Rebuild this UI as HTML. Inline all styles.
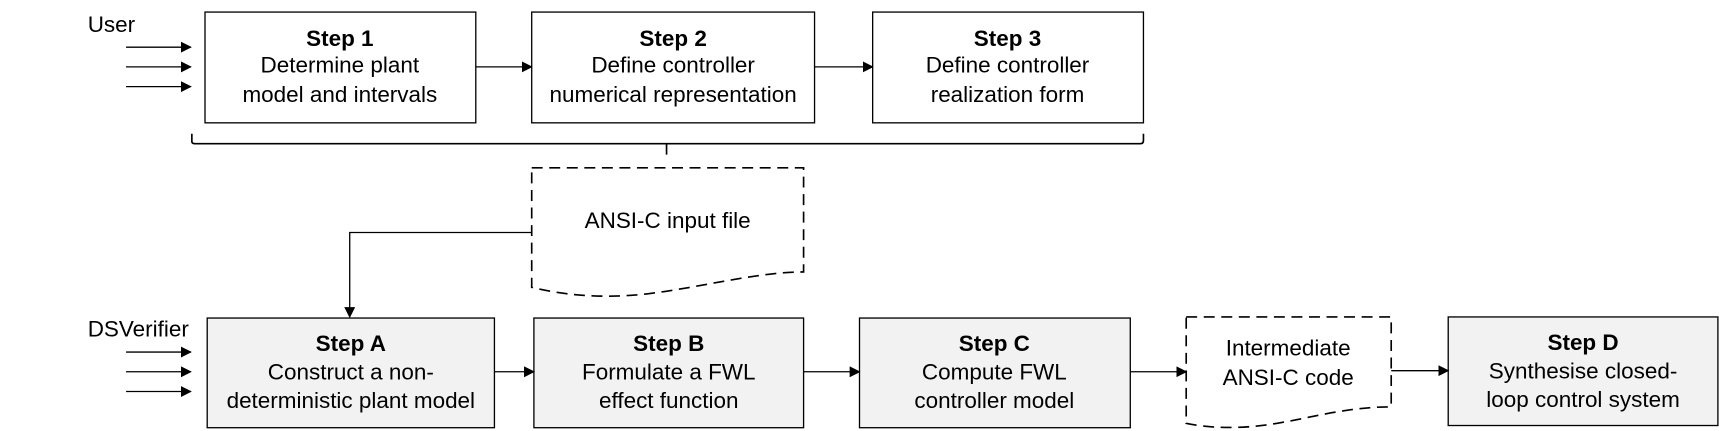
<!DOCTYPE html>
<html><head><style>html,body{margin:0;padding:0;background:#fff}svg{display:block}</style></head>
<body>
<svg width="1719" height="431" viewBox="0 0 1568 393" preserveAspectRatio="none" xmlns="http://www.w3.org/2000/svg" font-family="Liberation Sans, Arial, sans-serif" font-size="20.5">
<defs><marker id="a" markerWidth="10" markerHeight="10" refX="9" refY="5" orient="auto" markerUnits="userSpaceOnUse"><path d="M0,0 L10,5 L0,10 z" fill="#000"/></marker></defs>
<g stroke="#000" stroke-width="1.2" fill="none">
<line x1="115" y1="43" x2="174" y2="43" marker-end="url(#a)"/>
<line x1="115" y1="61" x2="174" y2="61" marker-end="url(#a)"/>
<line x1="115" y1="79" x2="174" y2="79" marker-end="url(#a)"/>
<line x1="115" y1="321" x2="174" y2="321" marker-end="url(#a)"/>
<line x1="115" y1="339" x2="174" y2="339" marker-end="url(#a)"/>
<line x1="115" y1="357" x2="174" y2="357" marker-end="url(#a)"/>
<rect x="187" y="11" width="247" height="101" fill="#fff"/>
<rect x="485" y="11" width="258" height="101" fill="#fff"/>
<rect x="796" y="11" width="247" height="101" fill="#fff"/>
<line x1="434" y1="61" x2="485" y2="61" marker-end="url(#a)"/>
<line x1="743" y1="61" x2="796" y2="61" marker-end="url(#a)"/>
<path d="M175,122 V129 Q175,131 178,131 H1040 Q1043,131 1043,128 V122" stroke-width="1.5"/>
<line x1="608" y1="131" x2="608" y2="141" stroke-width="1.5"/>
<path d="M485,153 H733 V248 C690,248 640,262 590,268 C545,273 510,268 485,262 Z" stroke-dasharray="10,6" stroke-width="1.5"/>
<polyline points="485,212 319,212 319,289" marker-end="url(#a)"/>
<rect x="189" y="290" width="262" height="100" fill="#f2f2f2"/>
<rect x="487" y="290" width="246" height="100" fill="#f2f2f2"/>
<rect x="784" y="290" width="247" height="100" fill="#f2f2f2"/>
<rect x="1321" y="289" width="246" height="99" fill="#f2f2f2"/>
<path d="M1082,289 H1269 V371 C1230,371 1200,380 1165,386 C1130,392 1100,390 1082,386 Z" stroke-dasharray="10,6" stroke-width="1.5"/>
<line x1="451" y1="339" x2="487" y2="339" marker-end="url(#a)"/>
<line x1="733" y1="339" x2="784" y2="339" marker-end="url(#a)"/>
<line x1="1031" y1="339" x2="1082" y2="339" marker-end="url(#a)"/>
<line x1="1269" y1="338" x2="1321" y2="338" marker-end="url(#a)"/>
</g>
<g fill="#000">
<text x="80" y="29">User</text>
<text x="80" y="307">DSVerifier</text>
<g text-anchor="middle">
<text x="310" y="42" font-weight="bold">Step 1</text><text x="310" y="66">Determine plant</text><text x="310" y="93">model and intervals</text>
<text x="614" y="42" font-weight="bold">Step 2</text><text x="614" y="66">Define controller</text><text x="614" y="93">numerical representation</text>
<text x="919" y="42" font-weight="bold">Step 3</text><text x="919" y="66">Define controller</text><text x="919" y="93">realization form</text>
<text x="609" y="208">ANSI-C input file</text>
<text x="320" y="320" font-weight="bold">Step A</text><text x="320" y="346">Construct a non-</text><text x="320" y="372">deterministic plant model</text>
<text x="610" y="320" font-weight="bold">Step B</text><text x="610" y="346">Formulate a FWL</text><text x="610" y="372">effect function</text>
<text x="907" y="320" font-weight="bold">Step C</text><text x="907" y="346">Compute FWL</text><text x="907" y="372">controller model</text>
<text x="1175" y="324">Intermediate</text><text x="1175" y="351">ANSI-C code</text>
<text x="1444" y="319" font-weight="bold">Step D</text><text x="1444" y="345">Synthesise closed-</text><text x="1444" y="371">loop control system</text>
</g></g>
</svg>
</body></html>
